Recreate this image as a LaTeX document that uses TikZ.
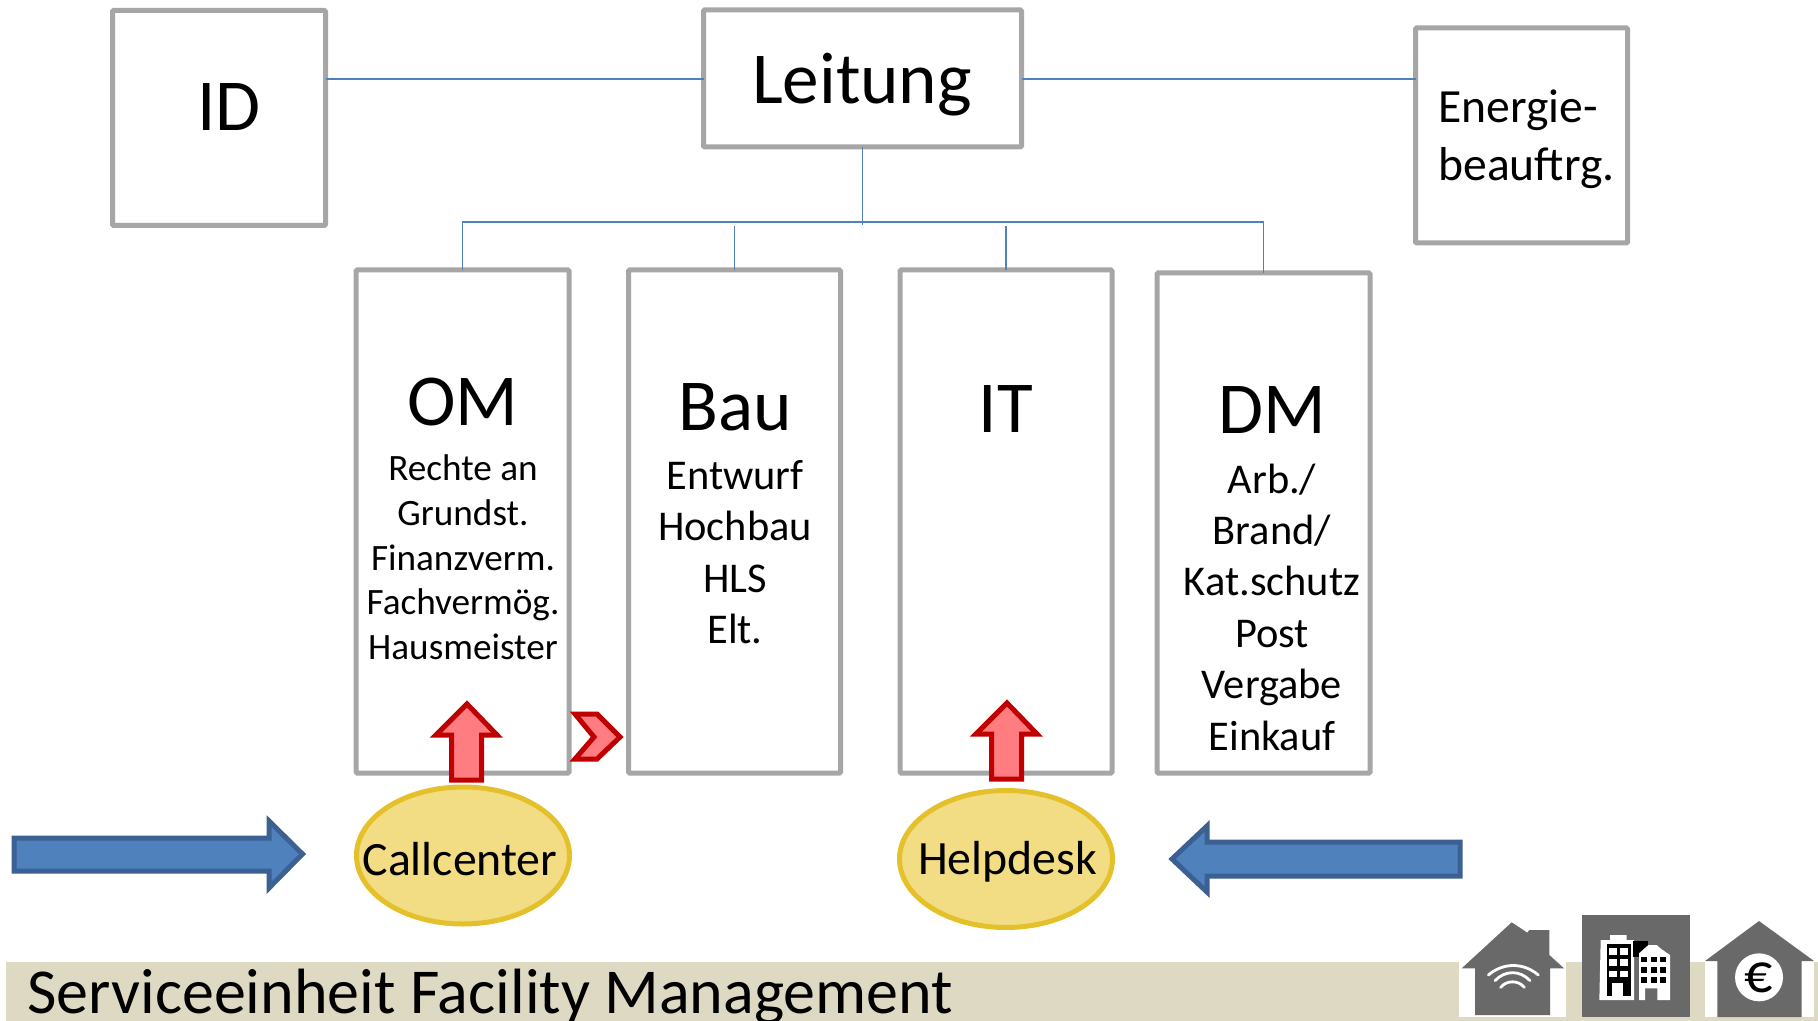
\documentclass[tikz,border=0pt]{standalone}
\usepackage{fontspec}
\setmainfont{Carlito}
\usetikzlibrary{shapes.geometric}
\definecolor{boxgray}{HTML}{A6A6A6}
\definecolor{linkblue}{HTML}{4F81BD}
\definecolor{arrowblue}{HTML}{4F81BD}
\definecolor{arrowedge}{HTML}{3B6091}
\definecolor{redfill}{HTML}{FF7C80}
\definecolor{rededge}{HTML}{C00000}
\definecolor{ovalfill}{HTML}{F2DC84}
\definecolor{ovaledge}{HTML}{E4C02A}
\definecolor{barfill}{HTML}{DDD9C3}
\definecolor{icongray}{HTML}{696969}
\tikzset{
  boxnode/.style 2 args={draw=boxgray,line width=2.5pt,rounded corners=0.6pt,fill=white,inner sep=0pt,outer sep=0pt,minimum width=#1*0.5pt,minimum height=#2*0.5pt},
  oval/.style={ellipse,draw=ovaledge,fill=ovalfill,line width=2.5pt,inner sep=0pt,outer sep=0pt,minimum width=106.5pt,minimum height=68.5pt},
  link/.style={draw=linkblue,line width=0.8pt},
  bigarrow/.style={draw=arrowedge,fill=arrowblue,line width=2.5pt,miter limit=10},
  redarrow/.style={draw=rededge,fill=redfill,line width=2.5pt,miter limit=10},
  titletext/.style={font=\fontsize{36.6}{40}\selectfont,inner sep=0pt},
  listsmall/.style={font=\fontsize{18.6}{22.35}\selectfont,align=center,inner sep=0pt},
  listbig/.style={font=\fontsize{21.2}{25.7}\selectfont,align=center,inner sep=0pt},
  ovaltext/.style={font=\fontsize{23.9}{28}\selectfont,inner sep=0pt},
}
\begin{document}
\begin{tikzpicture}[x=0.5pt,y=-0.5pt]
\useasboundingbox (0,0) rectangle (1818,1021);
\clip (0,0) rectangle (1818,1021);
% bottom band
\fill[barfill] (6,962) rectangle (1818,1021);
\node[anchor=base west,inner sep=0pt,font=\fontsize{32}{36}\selectfont] (band) at (27,1013) {Serviceeinheit Facility Management};
% boxes
\node[boxnode={213}{215}] (id) at (219,118) {};
\node[boxnode={318}{137}] (leitung) at (862.5,78.5) {};
\node[boxnode={212}{215}] (energie) at (1521.5,135.5) {};
\node[boxnode={213}{503}] (om) at (462.5,521.5) {};
\node[boxnode={212}{503}] (bau) at (734.5,521.5) {};
\node[boxnode={212}{503}] (it) at (1006,521.5) {};
\node[boxnode={213}{500}] (dm) at (1263.5,523) {};
% connectors
\coordinate (busjoin) at (862.5,225);
\draw[link] (id.east |- 0,79) -- (leitung.west |- 0,79);
\draw[link] (leitung.east |- 0,79) -- (energie.west |- 0,79);
\draw[link] (leitung.south) -- (busjoin);
\draw[link] (om.north) -- (om.north |- 0,222) -- (dm.north |- 0,222) -- (dm.north);
\draw[link] (bau.north) -- (bau.north |- 0,226);
\draw[link] (it.north) -- (it.north |- 0,226);
% titles
\node[titletext] (tid) at (229,107) {ID};
\node[titletext] (tleitung) at (862,85) {Leitung};
\node[anchor=west,inner sep=0pt,align=left,font=\fontsize{23.8}{29}\selectfont] (tenergie) at (1438,139) {Energie-\\beauftrg.};
\node[titletext] (tom) at (463,402) {OM};
\node[titletext] (tbau) at (735,407) {Bau};
\node[titletext] (tit) at (1006,409.5) {IT};
\node[titletext] (tdm) at (1272,410) {DM};
\node[listsmall] (lom) at (463,557.5) {Rechte an\\Grundst.\\Finanzverm.\\Fachvermög.\\Hausmeister};
\node[listbig] (lbau) at (735,552) {Entwurf\\Hochbau\\HLS\\Elt.};
\node[listbig] (ldm) at (1272,607) {Arb./\\Brand/\\Kat.schutz\\Post\\Vergabe\\Einkauf};
% ovals
\node[oval] (call) at (463,855.5) {};
\node[oval] (help) at (1006,859) {};
\node[ovaltext] (tcall) at (460,859.5) {Callcenter};
\node[ovaltext] (thelp) at (1007.5,862) {Helpdesk};
% blue arrows
\draw[bigarrow] (14,838) -- (269,838) -- (269,821) -- (302.5,854) -- (269,888) -- (269,871) -- (14,871) -- cycle;
\draw[bigarrow] (1460,842) -- (1207,842) -- (1207,826) -- (1172,859) -- (1207,892) -- (1207,876) -- (1460,876) -- cycle;
% red arrows
\draw[redarrow] (467,704) -- (497,735) -- (481.5,735) -- (481.5,780) -- (451.5,780) -- (451.5,735) -- (436,735) -- cycle;
\draw[redarrow] (1007,703) -- (1037,734) -- (1021.5,734) -- (1021.5,779) -- (991.5,779) -- (991.5,734) -- (976,734) -- cycle;
\draw[redarrow] (575,714) -- (597,714) -- (620,737) -- (597,759) -- (575,759) -- (594,737) -- cycle;
% icons
\begin{scope}[shift={(1440,890)},x=0.16667pt,y=-0.16667pt]
  % house with signal
  \fill[white] (57,213) rectangle (378,381);
  \fill[icongray] (215,97) -- (262,128) -- (268,120) -- (328,120) -- (328,195) -- (372,235) -- (330,235) -- (330,375) -- (105,375) -- (105,235) -- (65,235) -- cycle;
  \draw[white,line width=1.4pt,line cap=round] (145,255) .. controls (190,217) and (250,217) .. (295,255);
  \draw[white,line width=1.4pt,line cap=round] (165,272) .. controls (195,240) and (240,240) .. (270,272);
  \draw[white,line width=1.4pt,line cap=round] (182,292) .. controls (200,270) and (235,270) .. (253,292);
  % building
  \fill[icongray] (426,75) rectangle (750,381);
  \fill[white] (482,150) -- (510,150) -- (510,135) -- (560,135) -- (560,150) -- (582,150) -- (582,330) -- (478,330) -- cycle;
  \fill[black] (500,162) rectangle (572,318);
  \fill[black] (580,152) rectangle (625,200);
  \foreach \wy in {175,208,242} {
    \fill[white] (507,\wy) rectangle (530,\wy+20);
    \fill[white] (541,\wy) rectangle (564,\wy+20);
  }
  \fill[white] (515,280) rectangle (550,330);
  \fill[white] (597,190) -- (625,165) -- (650,165) -- (665,178) -- (690,195) -- (690,330) -- (652,330) -- (652,295) -- (615,295) -- (615,330) -- (597,330) -- cycle;
  \foreach \wy in {200,232,262} {
    \fill[black] (604,\wy) rectangle (622,\wy+16);
    \fill[black] (632,\wy) rectangle (650,\wy+16);
    \fill[black] (660,\wy) rectangle (678,\wy+16);
  }
  % house with euro
  \fill[white] (795,213) rectangle (1122,381);
  \fill[icongray] (957,93) -- (1122,213) -- (1085,213) -- (1085,381) -- (832,381) -- (832,213) -- (795,213) -- cycle;
  \fill[white] (957,262) circle[radius=72];
  \node[inner sep=0pt,font=\fontsize{28}{30}\selectfont] (euro) at (957,262) {€};
\end{scope}
\end{tikzpicture}
\end{document}
